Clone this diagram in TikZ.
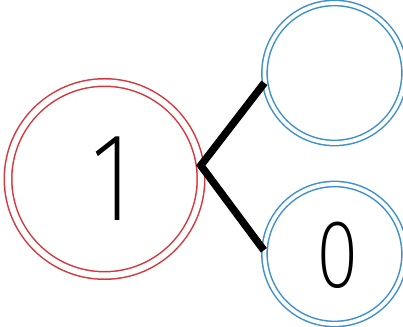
\documentclass[tikz,border=0pt]{standalone}
\usepackage{fontspec}
\setmainfont{Fira Sans}[UprightFont={* ExtraLight}, FakeStretch=0.8]
\definecolor{ringred}{RGB}{215,55,60}
\definecolor{ringblue}{RGB}{60,145,205}
\begin{document}
\begin{tikzpicture}[x=1pt, y=1pt,
  ring/.style={circle, inner sep=0pt, line width=1.5pt, double=white},
  whole/.style={ring, draw=ringred, double distance=6pt, minimum size=193pt},
  part/.style={ring, draw=ringblue, double distance=3.8pt, minimum size=140pt},
  link/.style={line width=7.5pt, line join=miter}]
  \useasboundingbox (0,0) rectangle (403,326);
  \node[whole] (one) at (104.5,147) {};
  \node[part] (top) at (334.5,253) {};
  \node[part] (bot) at (334.5,72) {};
  \node[font=\fontsize{126}{126}\selectfont] at (112,147) {1};
  \node[font=\fontsize{97}{97}\selectfont] at (338,71) {0};
  \draw[link] (top.188) -- (one.8) -- (bot.177);
\end{tikzpicture}
\end{document}
